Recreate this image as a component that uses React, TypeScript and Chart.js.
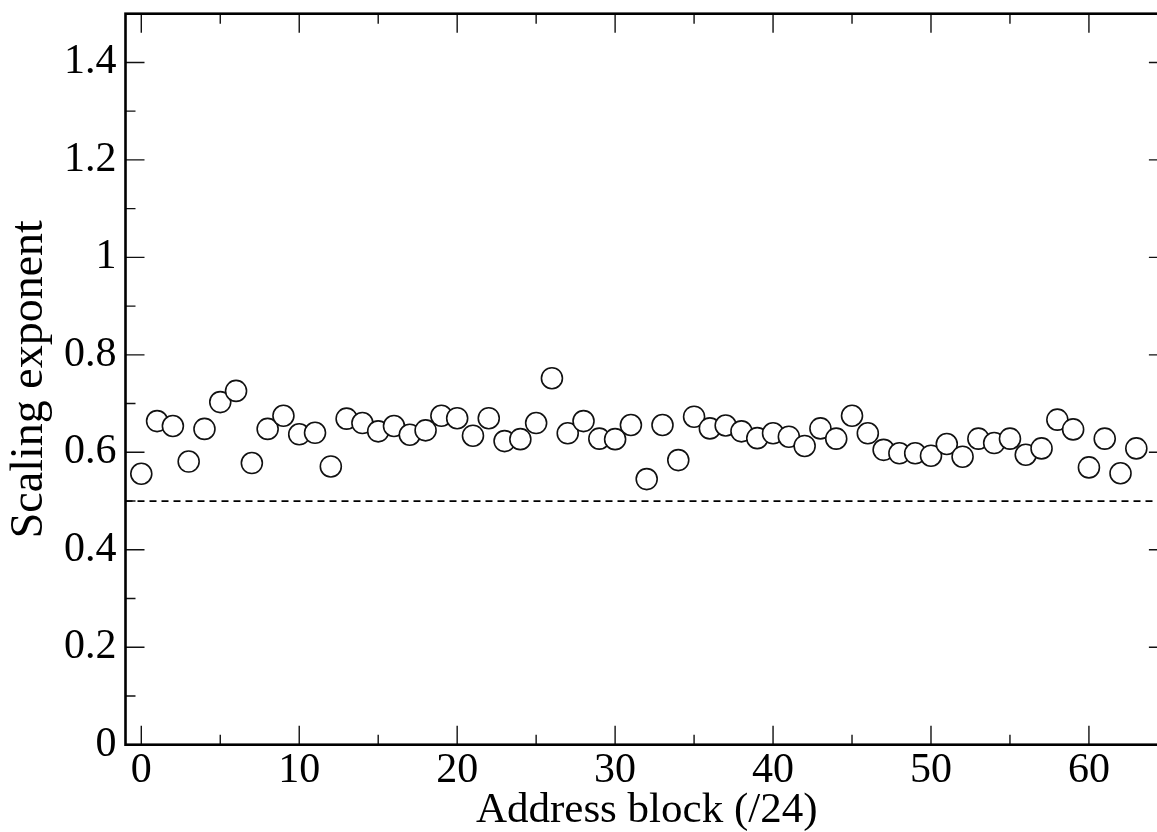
import React, { useEffect, useRef } from 'react';
import { Chart, registerables } from 'chart.js';

Chart.register(...registerables);

// ---- data ----
const BLOCKS = [
  0, 1, 2, 3, 4, 5, 6, 7, 8, 9, 10, 11, 12, 13, 14, 15,
  16, 17, 18, 19, 20, 21, 22, 23, 24, 25, 26, 27, 28, 29, 30, 31,
  32, 33, 34, 35, 36, 37, 38, 39, 40, 41, 42, 43, 44, 45, 46, 47,
  48, 49, 50, 51, 52, 53, 54, 55, 56, 57, 58, 59, 60, 61, 62, 63,
];
const EXPONENTS = [
  0.556, 0.664, 0.654, 0.581, 0.648, 0.703, 0.726, 0.578,
  0.648, 0.675, 0.637, 0.640, 0.571, 0.669, 0.660, 0.643,
  0.654, 0.636, 0.645, 0.675, 0.670, 0.634, 0.670, 0.623,
  0.627, 0.660, 0.752, 0.639, 0.664, 0.628, 0.627, 0.656,
  0.545, 0.656, 0.584, 0.673, 0.649, 0.655, 0.643, 0.629,
  0.639, 0.632, 0.613, 0.649, 0.628, 0.675, 0.639, 0.605,
  0.598, 0.598, 0.593, 0.617, 0.591, 0.628, 0.619, 0.628,
  0.595, 0.608, 0.667, 0.647, 0.569, 0.628, 0.557, 0.608,
];
const REFERENCE_X = [-1, 65];
const REFERENCE_Y = [0.5, 0.5];

const X_MIN = -1;
const X_MAX = 65;
const Y_MIN = 0;
const Y_MAX = 1.5;
const X_MAJOR = [0, 10, 20, 30, 40, 50, 60];
const X_MINOR = [5, 15, 25, 35, 45, 55, 65];
const Y_MAJOR = [0, 0.2, 0.4, 0.6, 0.8, 1.0, 1.2, 1.4];
const Y_MINOR = [0.1, 0.3, 0.5, 0.7, 0.9, 1.1, 1.3, 1.5];
const X_TITLE = 'Address block (/24)';
const Y_TITLE = 'Scaling exponent';

const FONT = '"Liberation Serif", "Times New Roman", Times, serif';

const framePlugin = {
  id: 'frameTicks',
  afterDatasetsDraw(chart: any) {
    const { ctx, chartArea, scales } = chart;
    const { left, right, top, bottom } = chartArea;
    const xs = scales.x;
    const ys = scales.y;
    const MAJ = 19;
    const MIN = 10;
    ctx.save();
    ctx.strokeStyle = '#111';
    ctx.lineWidth = 1.4;
    ctx.beginPath();
    const xt = (vals: number[], len: number) => {
      vals.forEach((v) => {
        const p = xs.getPixelForValue(v);
        ctx.moveTo(p, bottom);
        ctx.lineTo(p, bottom - len);
        ctx.moveTo(p, top);
        ctx.lineTo(p, top + len);
      });
    };
    const yt = (vals: number[], len: number) => {
      vals.forEach((v) => {
        const p = ys.getPixelForValue(v);
        ctx.moveTo(left, p);
        ctx.lineTo(left + len, p);
        ctx.moveTo(right, p);
        ctx.lineTo(right - len, p);
      });
    };
    xt(X_MAJOR, MAJ);
    xt(X_MINOR, MIN);
    yt(Y_MAJOR, MAJ);
    yt(Y_MINOR, MIN);
    ctx.stroke();
    ctx.lineWidth = 2.6;
    ctx.strokeStyle = '#000';
    ctx.strokeRect(left, top, right - left, bottom - top);
    ctx.restore();
  },
};

export default function App() {
  const ref = useRef<HTMLCanvasElement | null>(null);

  useEffect(() => {
    if (!ref.current) return;
    const points = BLOCKS.map((b, i) => ({ x: b, y: EXPONENTS[i] }));
    const refLine = REFERENCE_X.map((x, i) => ({ x, y: REFERENCE_Y[i] }));
    const chart = new Chart(ref.current, {
      type: 'scatter',
      data: {
        datasets: [
          {
            label: 'Reference',
            data: refLine,
            showLine: true,
            borderColor: '#000',
            borderWidth: 1.7,
            borderDash: [7, 5],
            pointRadius: 0,
            fill: false,
            order: 2,
          },
          {
            label: 'Scaling exponent',
            data: points,
            pointRadius: 10.5,
            pointHoverRadius: 10.5,
            pointBorderWidth: 1.6,
            borderColor: '#111',
            backgroundColor: '#fff',
            pointBackgroundColor: '#fff',
            pointBorderColor: '#111',
            order: 1,
          },
        ],
      },
      options: {
        animation: false,
        responsive: false,
        devicePixelRatio: 1,
        events: [],
        layout: { padding: { top: 13.7, right: 10.5, left: 0, bottom: 0 } },
        plugins: {
          legend: { display: false },
          tooltip: { enabled: false },
        },
        scales: {
          x: {
            type: 'linear',
            min: X_MIN,
            max: X_MAX,
            grid: { display: false, drawTicks: false },
            border: { display: false },
            afterBuildTicks: (s: any) => {
              s.ticks = X_MAJOR.map((v) => ({ value: v }));
            },
            afterFit: (s: any) => {
              s.height = 87.3;
              s.paddingLeft = 0;
              s.paddingRight = 0;
            },
            ticks: {
              padding: 5,
              color: '#000',
              maxRotation: 0,
              autoSkip: false,
              font: { family: FONT, size: 42, lineHeight: 1 },
              callback: (v: any) => String(Number(Number(v).toFixed(1))),
            },
            title: {
              display: true,
              text: X_TITLE,
              color: '#000',
              padding: { top: 0, bottom: 0 },
              font: { family: FONT, size: 43, lineHeight: 1 },
            },
          },
          y: {
            type: 'linear',
            min: Y_MIN,
            max: Y_MAX,
            grid: { display: false, drawTicks: false },
            border: { display: false },
            afterBuildTicks: (s: any) => {
              s.ticks = Y_MAJOR.map((v) => ({ value: v }));
            },
            afterFit: (s: any) => {
              s.width = 125.5;
              s.paddingTop = 0;
              s.paddingBottom = 0;
            },
            ticks: {
              padding: 9,
              color: '#000',
              autoSkip: false,
              font: { family: FONT, size: 42, lineHeight: 1 },
              callback: (v: any) => String(Number(Number(v).toFixed(1))),
            },
            title: {
              display: true,
              text: Y_TITLE,
              color: '#000',
              padding: { top: 7, bottom: 0 },
              font: { family: FONT, size: 46, lineHeight: 1 },
            },
          },
        },
      },
      plugins: [framePlugin],
    });
    return () => chart.destroy();
  }, []);

  return (
    <div
      style={{
        position: 'fixed',
        left: 0,
        top: 0,
        width: 1157,
        height: 832,
        overflow: 'hidden',
        background: '#fff',
      }}
    >
      <canvas ref={ref} width={1180} height={832} style={{ display: 'block' }} />
    </div>
  );
}
